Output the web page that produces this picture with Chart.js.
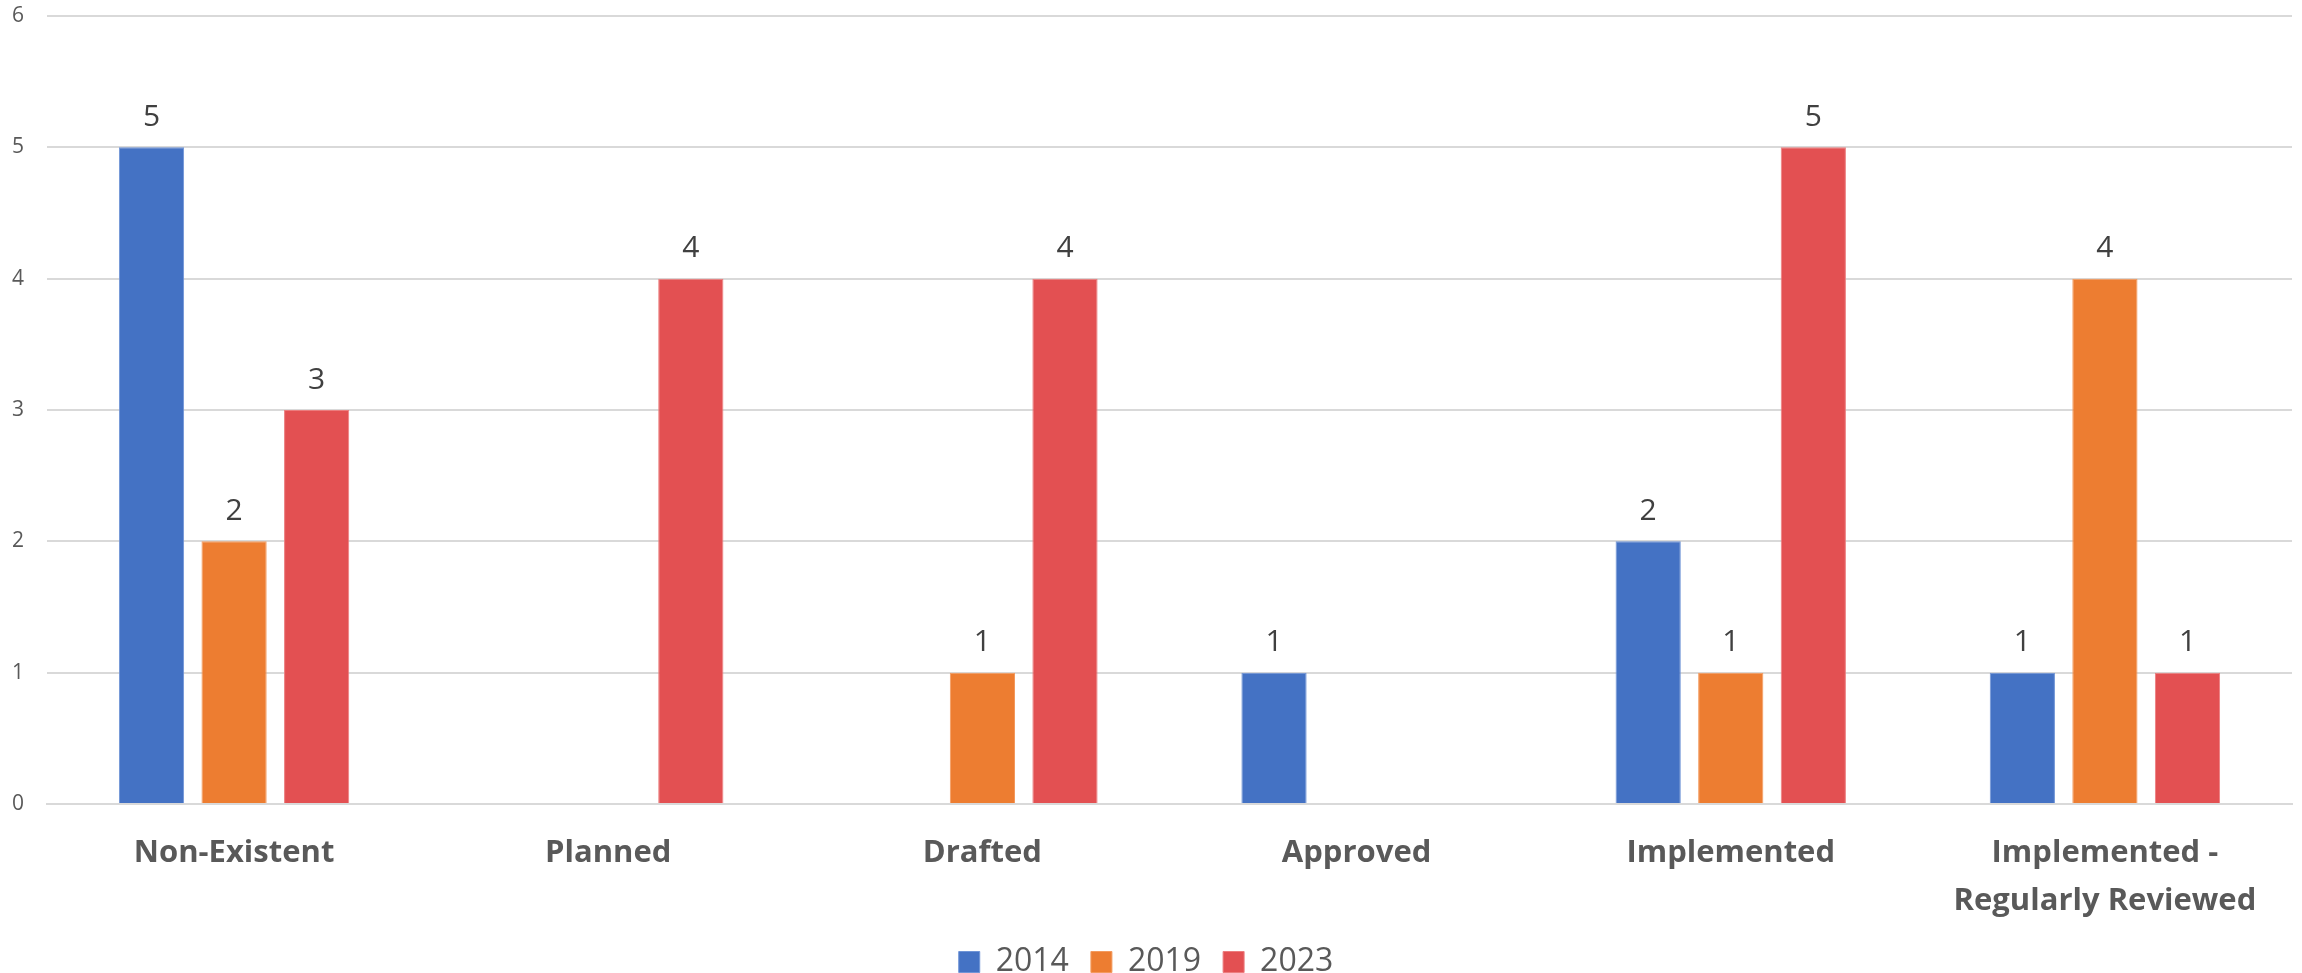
<!DOCTYPE html>
<html>
<head>
<meta charset="utf-8">
<script src="https://cdn.jsdelivr.net/npm/chart.js@4/dist/chart.umd.min.js"></script>
<style>
  html, body { margin: 0; padding: 0; background: #fff; }
  #wrap { width: 2302px; height: 973px; }
</style>
</head>
<body>
<div id="wrap"><canvas id="chart"></canvas></div>
<script>
const categories = ['Non-Existent', 'Planned', 'Drafted', 'Approved', 'Implemented', ['Implemented -', 'Regularly Reviewed']];
const years = ['2014', '2019', '2023'];
const values2014 = [5, 0, 0, 1, 2, 1];
const values2019 = [2, 0, 1, 0, 1, 4];
const values2023 = [3, 4, 4, 0, 5, 1];
const yTicks = [0, 1, 2, 3, 4, 5, 6];

const colors = ['#4472C4', '#ED7D31', '#E35052'];
const borders = ['#6f94d6', '#f39a5e', '#ec7d7e'];

// value labels above each non-zero bar
const barLabels = {
  id: 'barLabels',
  afterDatasetsDraw(chart) {
    const ctx = chart.ctx;
    ctx.save();
    ctx.font = '30px "Open Sans"';
    ctx.fillStyle = '#404040';
    ctx.textAlign = 'center';
    ctx.textBaseline = 'middle';
    chart.data.datasets.forEach((ds, i) => {
      chart.getDatasetMeta(i).data.forEach((bar, j) => {
        if (!ds.data[j]) return;
        ctx.fillText(ds.data[j], bar.x, bar.y - 30);
      });
    });
    ctx.restore();
  }
};

new Chart(document.getElementById('chart'), {
  type: 'bar',
  data: {
    labels: categories,
    datasets: [values2014, values2019, values2023].map((d, i) => ({
      label: years[i],
      data: d,
      backgroundColor: colors[i],
      borderColor: borders[i],
      borderWidth: 1,
      barPercentage: 0.79,
      categoryPercentage: 0.662
    }))
  },
  options: {
    responsive: true,
    maintainAspectRatio: false,
    animation: false,
    layout: { padding: { top: 16, right: 10, left: 0, bottom: -15 } },
    plugins: {
      tooltip: { enabled: false },
      legend: {
        position: 'bottom',
        labels: {
          boxWidth: 21,
          boxHeight: 21,
          padding: 22,
          color: '#595959',
          font: { family: 'Open Sans', size: 32, lineHeight: 1 }
        }
      }
    },
    scales: {
      x: {
        afterFit(scale) { scale.height = 120; },
        grid: { display: false, drawTicks: false },
        border: { display: true, color: '#d9d9d9', width: 2 },
        ticks: {
          color: '#595959',
          padding: 26,
          maxRotation: 0,
          autoSkip: false,
          font: { family: 'Open Sans', size: 31, weight: 'bold', lineHeight: 1.52 }
        }
      },
      y: {
        min: 0,
        max: 6,
        afterFit(scale) {
          scale.width = 47;
          scale.paddingTop = 0;
          scale.paddingBottom = 0;
        },
        afterBuildTicks(scale) { scale.ticks = yTicks.map(v => ({ value: v })); },
        grid: { color: '#d9d9d9', lineWidth: 2, drawTicks: false },
        border: { display: false },
        ticks: {
          color: '#595959',
          padding: 23,
          font: { family: 'Open Sans', size: 21 }
        }
      }
    }
  },
  plugins: [barLabels]
});
</script>
</body>
</html>
